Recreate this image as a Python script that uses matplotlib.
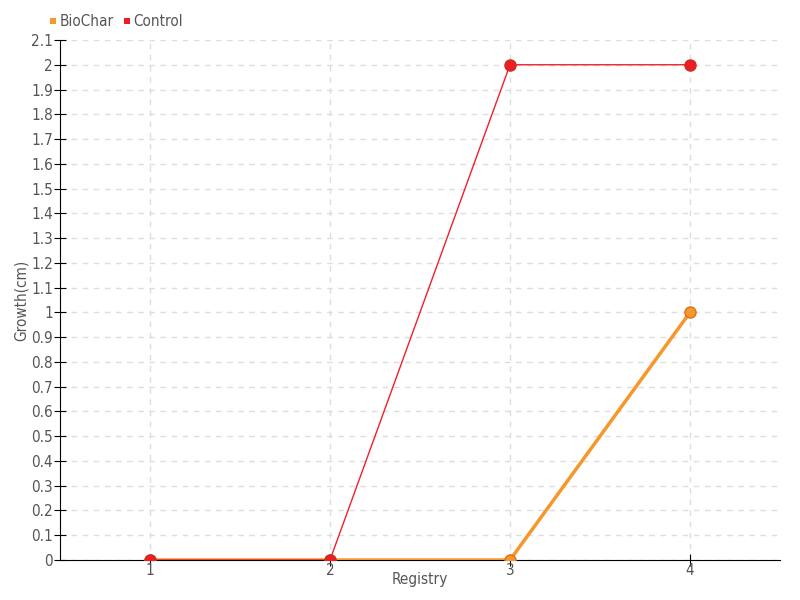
import numpy as np
import matplotlib
matplotlib.use("Agg")
import matplotlib.pyplot as plt

registry = [1, 2, 3, 4]
biochar = [0, 0, 0, 1]
control = [0, 0, 2, 2]
y_ticks = [round(0.1 * i, 1) for i in range(22)]

plt.rcParams['font.family'] = ['DejaVu Sans']
plt.rcParams['font.stretch'] = 'condensed'

text_color = "#555555"

fig = plt.figure(figsize=(8, 6), dpi=100)
ax = fig.add_axes([60 / 800, 40 / 600, 720 / 800, 520 / 600])

ax.plot(registry, biochar, color="#f7962b", lw=2.5, marker="o", ms=8,
        mfc="#f7962b", mec="#d9731a", mew=1, zorder=3, label="BioChar")
ax.plot(registry, control, color="#f0202e", lw=1, marker="o", ms=8,
        mfc="#ee1c25", mec="#c8301a", mew=1, zorder=4, label="Control")

ax.set_xlim(0.5, 4.5)
ax.set_ylim(0, 2.1)
ax.set_xticks(registry)
ax.set_yticks(y_ticks)
ax.set_yticklabels([f"{v:g}" for v in y_ticks])

ax.grid(True, color="#dddddd", linestyle=(0, (4, 4)), lw=1)
ax.set_axisbelow(True)
for s in ["top", "right"]:
    ax.spines[s].set_visible(False)
ax.spines["left"].set_color("black")
ax.spines["bottom"].set_color("black")
ax.tick_params(axis="both", direction="inout", length=8, colors="black",
               labelcolor=text_color, labelsize=11)
ax.tick_params(axis="x", pad=-2)
ax.tick_params(axis="y", pad=1)

ax.set_xlabel("Registry", color=text_color, fontsize=11, labelpad=-4)
ax.set_ylabel("Growth(cm)", color=text_color, fontsize=11)
ax.yaxis.set_label_coords(-0.043, 0.5)

leg = ax.legend(loc="upper left", bbox_to_anchor=(-0.024, 1.062), ncol=2, frameon=False,
                fontsize=11, handlelength=0.5, handletextpad=0.2, columnspacing=0.6,
                borderaxespad=0)
for h in leg.legend_handles:
    h.set_linestyle("none")
    h.set_marker("s")
    h.set_markersize(5)
    h.set_markeredgewidth(0)
for t in leg.get_texts():
    t.set_color(text_color)

fig.savefig("out.png", dpi=100)
